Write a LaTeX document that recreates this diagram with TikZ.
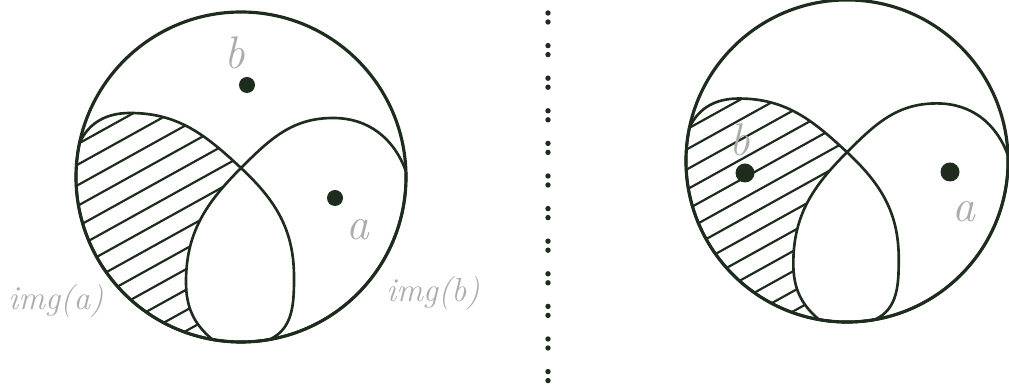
\documentclass[tikz,border=0pt]{standalone}
\usetikzlibrary{positioning}
\definecolor{ink}{RGB}{30,44,30}
\definecolor{pencil}{RGB}{172,172,172}

% img(a): lower left, shares its arc with the ball
\newcommand{\imgapath}{(168:165) to[out=65, in=180] (-111,64) to[out=0, in=137] (0,9)
  to[out=-43, in=90] (53,-100) to[out=-90, in=25] (280:165)
  arc[start angle=280, end angle=168, radius=165] -- cycle}
% img(b): lower right, shares its arc with the ball
\newcommand{\imgbpath}{(260:165) to[out=140, in=270] (-55,-105) to[out=90, in=225] (0,9)
  to[out=45, in=180] (92,59) to[out=0, in=110] (2:165)
  arc[start angle=2, end angle=-100, radius=165] -- cycle}

\begin{document}
\begin{tikzpicture}[
  x=0.2mm, y=0.2mm,
  ball/.style={draw=ink, line width=1.8pt},
  imgset/.style={draw=ink, line width=1.5pt},
  hatch/.style={draw=ink, line width=1.25pt},
  elem/.style={circle, fill=ink, inner sep=0pt, minimum size=3.2mm},
  handlabel/.style={text=pencil, inner sep=0pt, font=\fontsize{26}{28}\selectfont\itshape},
  imglabel/.style={text=pencil, inner sep=0pt, font=\fontsize{19}{21}\selectfont\itshape},
]
\useasboundingbox (0,0) rectangle (1009,385);

% the two balls, img(a) minus img(b) hatched
\foreach \cx/\cy/\s in {241/208/1, 847/224/0.976} {
  \begin{scope}[shift={(\cx,\cy)}, scale=\s]
    \begin{scope}[even odd rule]
      \clip \imgapath;
      \clip \imgbpath (-200,-200) rectangle (200,200);
      \begin{scope}[rotate=29]
        \foreach \k in {-12,...,12}
          \draw[hatch] (-250,\k*18) -- (250,\k*18);
      \end{scope}
    \end{scope}
    \draw[ball] (0,0) circle [radius=165];
    \draw[imgset] \imgapath;
    \draw[imgset] \imgbpath;
  \end{scope}
}

% points a and b
\node[elem] (b-left) at (247,300) {};
\node[elem] (a-left) at (335,187) {};
\node[elem, minimum size=3.8mm] (b-right) at (745,212) {};
\node[elem, minimum size=3.8mm] (a-right) at (950,213) {};

% pencil labels
\node[handlabel] (lbl-b-left) at (235,332) {b};
\node[handlabel] (lbl-a-left) at (358,155) {a};
\node[handlabel] (lbl-b-right) at (740,245) {b};
\node[handlabel] (lbl-a-right) at (964,173) {a};
\node[imglabel] (lbl-imga) at (56,84) {img(a)};
\node[imglabel] (lbl-imgb) at (433,92) {img(b)};

% dotted separator
\foreach \k in {0,...,11} {
  \fill[ink] (548,{372-32.6*\k}) circle [radius=2.7];
  \fill[ink] (548,{363-32.6*\k}) circle [radius=2.7];
}

\end{tikzpicture}
\end{document}
